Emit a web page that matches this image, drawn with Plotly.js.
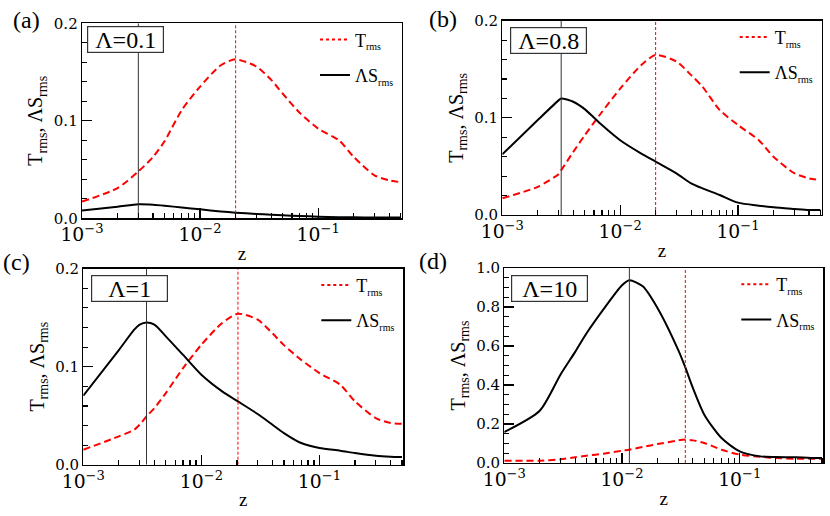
<!DOCTYPE html>
<html>
<head>
<meta charset="utf-8">
<script src="https://cdn.plot.ly/plotly-3.0.1.min.js"></script>
<style>
  html, body { margin: 0; padding: 0; background: #fff; }
  #chart { width: 830px; height: 516px; }
</style>
</head>
<body>
<div id="chart"></div>
<script>
// z samples and rms profiles
const zA = [0.001, 0.002, 0.003, 0.004, 0.005, 0.007, 0.01, 0.015, 0.02, 0.03, 0.04, 0.05, 0.07, 0.1, 0.15, 0.2, 0.3, 0.4, 0.5];
const tA = [0.0171, 0.031, 0.048, 0.063, 0.079, 0.111, 0.135, 0.157, 0.163, 0.1556, 0.142, 0.128, 0.108, 0.092, 0.080, 0.063, 0.044, 0.039, 0.037];
const sA = [0.0079, 0.0118, 0.0144, 0.0140, 0.0130, 0.0110, 0.0092, 0.0070, 0.0058, 0.0045, 0.0037, 0.0031, 0.0024, 0.0017, 0.0012, 0.0010, 0.0008, 0.0007, 0.0007];

const zB = [0.001, 0.002, 0.003, 0.00316, 0.004, 0.005, 0.007, 0.01, 0.015, 0.02, 0.03, 0.04, 0.05, 0.07, 0.1, 0.15, 0.2, 0.3, 0.4, 0.5];
const tB = [0.0172, 0.029, 0.042, 0.046, 0.065, 0.082, 0.106, 0.130, 0.154, 0.1647, 0.158, 0.144, 0.132, 0.108, 0.0926, 0.077, 0.060, 0.043, 0.0377, 0.036];
const sB = [0.0624, 0.0978, 0.118, 0.120, 0.1166, 0.109, 0.0926, 0.077, 0.0635, 0.0549, 0.0429, 0.0326, 0.0274, 0.0206, 0.0127, 0.0096, 0.0079, 0.0062, 0.0051, 0.0051];

const zC = [0.001, 0.002, 0.0027, 0.003, 0.00343, 0.004, 0.005, 0.007, 0.01, 0.015, 0.0204, 0.03, 0.04, 0.05, 0.07, 0.1, 0.15, 0.2, 0.3, 0.4, 0.5];
const tC = [0.0153, 0.0289, 0.0357, 0.0408, 0.0493, 0.0578, 0.0731, 0.0986, 0.1224, 0.1446, 0.154, 0.148, 0.134, 0.122, 0.107, 0.0935, 0.0816, 0.0646, 0.0476, 0.0425, 0.0418];
const sC = [0.0704, 0.117, 0.1378, 0.1429, 0.1452, 0.1429, 0.131, 0.112, 0.0918, 0.0748, 0.0646, 0.0517, 0.0408, 0.0323, 0.0221, 0.017, 0.0143, 0.0119, 0.0092, 0.0082, 0.0078];

const zD = [0.001, 0.002, 0.003, 0.004, 0.005, 0.007, 0.01, 0.01155, 0.015, 0.02, 0.03, 0.0345, 0.04, 0.05, 0.07, 0.1, 0.15, 0.2, 0.3, 0.4, 0.5];
const tD = [0.012, 0.012, 0.019, 0.029, 0.0376, 0.048, 0.063, 0.068, 0.082, 0.097, 0.116, 0.120, 0.116, 0.103, 0.068, 0.043, 0.032, 0.026, 0.022, 0.022, 0.022];
const sD = [0.159, 0.268, 0.453, 0.57, 0.665, 0.79, 0.911, 0.937, 0.906, 0.795, 0.58, 0.49, 0.385, 0.248, 0.128, 0.060, 0.034, 0.031, 0.029, 0.026, 0.026];

const panelLabels = ['(a)', '(b)', '(c)', '(d)'];
const lambdaLabels = ['\u039b=0.1', '\u039b=0.8', '\u039b=1', '\u039b=10'];
const yRanges = [[0, 0.2], [0, 0.2], [0, 0.2], [0, 1.0]];
const yMajor = [0.1, 0.1, 0.1, 0.2];
const yMinor = [0.02, 0.02, 0.02, 0.05];
const decades = [0.001, 0.01, 0.1];

const panels = [
  { z: zA, t: tA, s: sA },
  { z: zB, t: tB, s: sB },
  { z: zC, t: tC, s: sC },
  { z: zD, t: tD, s: sD },
];

// minor tick positions 2..9 in each decade
const minorZ = [];
decades.forEach(d => { for (let k = 2; k <= 9; k++) minorZ.push(d * k); });

const W = 830, H = 516;
// plot boxes in pixels: [left, right, top, bottom]
const boxes = [
  [82, 402, 23.3, 218.3],
  [502.3, 821.7, 20.7, 215],
  [83.3, 403.3, 268.7, 464.7],
  [504.3, 823.3, 268, 463],
];
// top-left corners of the Lambda boxes and panel letters, pixels
const lamPos = [[87, 26], [510, 27], [91, 275], [511, 275]];
const letterPos = [[11, 20], [427, 19], [1, 262], [417, 261]];

const serif = 'Liberation Serif, Times New Roman, serif';
const tickFont = { family: 'DejaVu Serif, serif', size: 15, color: '#000' };
const argmax = arr => arr.indexOf(Math.max(...arr));
const X_RANGE = [-3, -0.29];
const small = s => '<sub><span style="font-size:10px">' + s + '</span></sub>';

const traces = [];
const layout = {
  width: W, height: H,
  margin: { l: 0, r: 0, t: 0, b: 0 },
  paper_bgcolor: '#fff',
  plot_bgcolor: '#fff',
  font: { family: serif, color: '#000' },
  annotations: [],
};

panels.forEach((p, i) => {
  const n = i === 0 ? '' : String(i + 1);
  const xa = 'x' + n, ya = 'y' + n;
  const xm = 'x' + (i + 5);          // overlay axis carrying the minor ticks
  const lg = i === 0 ? 'legend' : 'legend' + (i + 1);
  const [l, r, top, bot] = boxes[i];

  // peak markers (on the overlay axis, same range)
  const zs = p.z[argmax(p.s)];
  const zt = p.z[argmax(p.t)];
  traces.push({
    x: [zs, zs], y: yRanges[i], xaxis: xm, yaxis: ya, mode: 'lines',
    line: { color: '#333', width: 1 }, showlegend: false, hoverinfo: 'skip',
  });
  traces.push({
    x: [zt, zt], y: yRanges[i], xaxis: xm, yaxis: ya, mode: 'lines',
    line: { color: '#f00', width: 1, dash: '3px,2px' }, showlegend: false, hoverinfo: 'skip',
  });

  traces.push({
    x: p.z, y: p.t, xaxis: xa, yaxis: ya, mode: 'lines',
    line: { color: '#ff0000', width: 2, dash: '7px,4px', shape: 'spline', smoothing: 0.7 }, showlegend: false,
  });
  traces.push({
    x: p.z, y: p.s, xaxis: xa, yaxis: ya, mode: 'lines',
    line: { color: '#000', width: 2, shape: 'spline', smoothing: 0.7 }, showlegend: false,
  });

  // legend entries
  traces.push({
    x: [null], y: [null], xaxis: xa, yaxis: ya, mode: 'lines', name: 'T' + small('rms'),
    line: { color: '#ff0000', width: 2, dash: 'dot' }, legend: lg, legendgroup: 't' + i,
  });
  traces.push({
    x: [null], y: [null], xaxis: xa, yaxis: ya, mode: 'lines', name: '\u039bS' + small('rms'),
    line: { color: '#000', width: 2 }, legend: lg, legendgroup: 's' + i,
  });

  layout['xaxis' + n] = {
    type: 'log', range: X_RANGE, domain: [l / W, r / W], anchor: ya,
    dtick: 1, exponentformat: 'power', tickfont: tickFont,
    ticks: 'inside', ticklen: 10, tickwidth: 1.2, tickcolor: '#000',
    showline: true, linecolor: '#000', linewidth: 1.3, mirror: true,
    showgrid: false, zeroline: false,
    title: { text: 'z', font: { family: serif, size: 19 }, standoff: 2 },
  };
  layout['xaxis' + (i + 5)] = {
    type: 'log', range: X_RANGE, overlaying: xa, anchor: ya, side: 'bottom',
    tickmode: 'array', tickvals: minorZ, showticklabels: false,
    ticks: 'inside', ticklen: 5, tickwidth: 1.2, tickcolor: '#000',
    showline: false, showgrid: false, zeroline: false,
  };
  layout['yaxis' + n] = {
    range: yRanges[i], domain: [1 - bot / H, 1 - top / H], anchor: xa,
    dtick: yMajor[i], tickformat: '.1f', tickfont: tickFont,
    ticks: 'inside', ticklen: 10, tickwidth: 1.2, tickcolor: '#000',
    minor: { ticks: 'inside', ticklen: 5, tickwidth: 1.2, tickcolor: '#000', dtick: yMinor[i] },
    showline: true, linecolor: '#000', linewidth: 1.3, mirror: true,
    showgrid: false, zeroline: false,
    title: { text: 'T<sub>rms</sub>, \u039bS<sub>rms</sub>', font: { family: serif, size: 20 }, standoff: 5 },
  };

  layout[lg] = {
    x: (r - 87) / W, y: 1 - (top - 2) / H, xanchor: 'left', yanchor: 'top',
    bgcolor: 'rgba(0,0,0,0)', borderwidth: 0, tracegroupgap: 9,
    font: { family: serif, size: 18, color: '#000' }, itemwidth: 30,
  };

  // Lambda box
  layout.annotations.push({
    xref: 'paper', yref: 'paper',
    x: lamPos[i][0] / W, y: 1 - lamPos[i][1] / H, xanchor: 'left', yanchor: 'top',
    text: lambdaLabels[i], showarrow: false,
    font: { family: serif, size: 24, color: '#000' },
    bordercolor: '#333', borderwidth: 1.2, borderpad: 0, bgcolor: '#fff',
    width: 75, height: 25,
  });
  // panel letter
  layout.annotations.push({
    xref: 'paper', yref: 'paper',
    x: letterPos[i][0] / W, y: 1 - letterPos[i][1] / H, xanchor: 'left', yanchor: 'middle',
    text: panelLabels[i], showarrow: false,
    font: { family: serif, size: 24, color: '#000' },
  });
});

Plotly.newPlot('chart', traces, layout, { displayModeBar: false, staticPlot: true });
</script>
</body>
</html>
